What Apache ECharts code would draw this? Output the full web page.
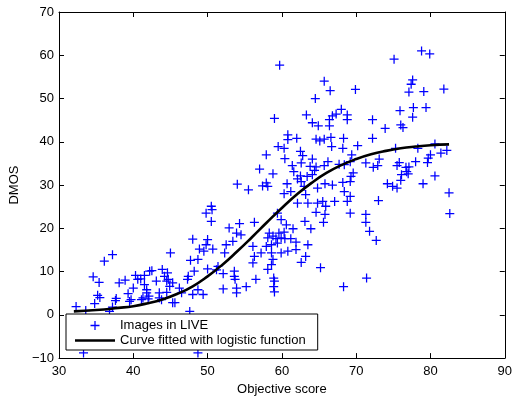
<!DOCTYPE html>
<html>
<head>
<meta charset="utf-8">
<script src="https://cdn.jsdelivr.net/npm/echarts@6/dist/echarts.min.js"></script>
<style>
  html, body { margin: 0; padding: 0; background: #fff; }
  #chart { width: 515px; height: 401px; }
</style>
</head>
<body>
<div id="chart"></div>
<script>
// Subjective scores (DMOS) of the LIVE images against the objective quality score
const objectiveScore = [
  32.3, 37.2, 36.1, 34.6, 35.4, 35.2, 35.5, 34.8, 33.6, 33.3, 37.6, 37.2, 38.1, 38.9, 39.3, 39.7,
  40.0, 40.3, 40.6, 41.0, 41.5, 42.2, 42.5, 41.5, 41.8, 41.8, 41.3, 42.1, 43.1, 43.9, 44.2, 43.5,
  44.7, 45.3, 44.5, 45.3, 43.5, 45.0, 41.1, 42.0, 39.5, 37.7, 43.8, 36.8,
  50.5, 49.8, 50.6, 50.5, 56.3, 54.3, 52.9, 53.9, 54.5, 53.4, 52.5, 52.3, 56.1, 56.3, 56.1, 57.2,
  48.0, 50.0, 49.8, 48.9, 49.5, 50.7, 48.7, 47.7, 50.0, 51.4, 51.2, 52.1, 53.6, 53.6, 53.7, 56.5,
  55.2, 53.9, 52.1, 53.9, 47.4, 47.3, 48.2, 44.6, 44.5, 44.9, 46.2, 46.5, 48.0, 49.4, 48.7, 45.6,
  47.6, 48.7,
  62.1, 63.5, 64.8, 65.5, 65.9, 67.1, 68.8, 64.6, 65.8, 65.6, 69.2, 63.1, 63.9, 59.4, 59.9, 60.6,
  61.5, 60.3, 59.6, 58.3, 58.1, 58.8, 59.2, 59.9, 60.4, 61.2, 61.9, 63.5, 58.6, 57.9, 59.4, 61.9,
  60.8, 59.9, 58.6, 63.2, 62.6, 58.8, 58.6, 58.1, 65.2, 58.9, 59.0, 58.9, 59.0, 68.3, 71.4,
  73.0, 71.3, 71.3, 71.8, 72.7, 82.6,
  54.0, 55.5, 57.0, 57.4,
  59.7, 65.7, 66.5, 64.5, 69.9, 59.0, 63.3, 64.1, 64.9, 66.4, 66.4, 66.8, 67.3, 68.0, 68.8, 68.8,
  62.0, 60.8, 60.8, 64.6, 65.1, 65.7, 66.6, 68.3, 59.5, 60.3, 66.7, 68.2, 70.2, 57.9, 62.5, 62.8,
  66.2, 69.4, 60.4, 64.1, 61.4, 62.6, 63.8, 64.6, 65.7, 67.7, 68.4, 69.2, 61.6, 64.4, 58.8, 62.5,
  63.4, 64.1, 69.6, 69.3, 58.1, 57.9, 60.7, 62.1, 62.6, 65.8, 66.8, 68.2, 69.2, 60.3, 61.2, 63.2,
  64.8, 68.4, 69.2, 63.0,
  75.1, 78.8, 79.9, 77.6, 77.4, 77.1, 79.1, 81.8, 75.9, 77.7, 79.4, 77.6, 72.2, 73.9, 76.0, 76.3,
  72.2, 75.3, 78.3, 80.6, 71.3, 73.1, 72.9, 72.3, 75.8, 75.5, 76.7, 77.1, 76.8, 76.1, 77.0, 78.0,
  79.6, 79.7, 80.0, 81.4, 82.2, 76.0, 74.2, 74.9, 75.5, 79.0, 80.6, 82.5
];
const dmos = [
  1.9, 13.9, 12.4, 8.8, 7.5, 4.5, 4.0, 2.6, 1.0, -8.8, 3.3, 1.8, 7.4, 8.0, 4.9, 3.5,
  6.2, 9.1, 8.2, 8.3, 9.1, 10.1, 10.2, 7.0, 5.8, 5.1, 3.9, 4.3, 7.8, 10.5, 8.9, 5.1,
  8.2, 7.4, 5.2, 2.8, 3.9, 14.3, 3.5, 3.7, 3.1, 3.8, 3.5, 0.8,
  25.1, 23.5, 24.3, 21.6, 21.4, 21.1, 20.1, 18.9, 18.5, 17.0, 16.2, 14.3, 15.8, 13.5, 12.0, 14.3,
  17.5, 17.4, 16.2, 15.2, 14.7, 15.2, 12.8, 12.6, 10.6, 11.2, 10.4, 9.5, 10.1, 8.9, 8.2, 8.2,
  6.5, 6.2, 6.0, 5.1, 8.9, 8.2, 10.1, 9.7, 7.8, 6.6, 6.2, 5.1, 4.7, 4.7, 5.8, 2.8,
  0.8, -8.8,
  25.8, 25.8, 25.8, 26.2, 25.1, 26.2, 26.2, 23.7, 23.2, 21.4, 23.5, 21.6, 19.9, 23.5, 22.0, 20.8,
  19.9, 19.1, 18.9, 18.9, 17.8, 18.2, 17.6, 17.8, 17.6, 17.6, 16.8, 16.2, 16.2, 15.8, 16.6, 15.1,
  14.7, 14.3, 14.3, 13.5, 12.1, 12.8, 11.6, 10.5, 10.9, 8.5, 7.8, 6.5, 5.3, 6.5, 8.5,
  26.4, 23.2, 21.4, 19.3, 17.2, 23.4,
  30.2, 28.9, 33.7, 29.8,
  57.7, 54.0, 51.8, 50.0, 52.1, 45.4, 46.2, 44.4, 43.7, 43.7, 45.1, 46.0, 46.4, 47.5, 46.2, 45.1,
  40.8, 41.6, 40.5, 40.6, 40.2, 40.6, 41.0, 40.8, 38.9, 38.5, 38.9, 38.5, 39.1, 37.0, 37.8, 36.8,
  35.4, 37.0, 36.1, 36.0, 34.5, 35.1, 34.3, 34.2, 34.5, 34.8, 34.7, 35.4, 33.1, 33.4, 32.6, 32.1,
  32.0, 32.4, 32.8, 32.0, 29.7, 30.5, 30.3, 31.4, 30.8, 30.3, 30.0, 30.6, 30.8, 28.0, 28.5, 27.8,
  29.3, 28.5, 27.4, 29.7,
  59.1, 61.0, 60.3, 54.3, 53.3, 51.5, 51.6, 52.2, 47.2, 47.9, 47.9, 45.7, 45.1, 43.1, 43.9, 43.3,
  40.8, 38.5, 38.5, 39.5, 35.1, 36.0, 34.5, 34.1, 35.2, 34.5, 34.1, 34.2, 33.1, 32.4, 32.6, 35.4,
  35.2, 36.2, 37.0, 37.4, 38.0, 31.1, 30.3, 29.7, 29.3, 30.3, 32.1, 28.2
];

// Logistic curve fitted to the scores, sampled along the objective score axis
const curveScore = [32, 35, 38, 40, 42, 44, 46, 48, 50, 52, 54, 56, 58, 60, 62, 64, 66, 68, 70, 72, 74, 76, 78, 80, 82.5];
const curveDmos  = [0.8, 1.1, 1.6, 2.0, 2.7, 3.6, 4.9, 6.6, 8.9, 11.6, 14.7, 18.0, 21.4, 24.7, 27.8, 30.5, 32.8, 34.6, 36.0, 37.1, 37.9, 38.5, 38.9, 39.2, 39.4];

const legendNames = ['Images in LIVE', 'Curve fitted with logistic function'];
const xRange = [30, 90];
const yRange = [-10, 70];

const FONT = "'Liberation Sans', Arial, Helvetica, sans-serif";
const plusMarker = 'path://M0,4.3H10V5.7H0Z M4.3,0H5.7V10H4.3Z';
const lineIcon = 'path://M0,0H40V2.6H0Z';

const chart = echarts.init(document.getElementById('chart'), null, { renderer: 'canvas' });

function frameAxis(base, extra) {
  return Object.assign({
    type: 'value',
    axisLine: { show: true, onZero: false, lineStyle: { color: '#000', width: 1 } },
    axisTick: { show: true, inside: true, length: 5, lineStyle: { color: '#000', width: 1 } },
    splitLine: { show: false }
  }, base, extra);
}

const labelStyle = { color: '#000', fontSize: 13, fontFamily: FONT };
// typographic minus for negative tick values
const tickText = v => String(v).replace('-', '\u2212');

chart.setOption({
  animation: false,
  backgroundColor: '#fff',
  grid: { left: 59, right: 9, top: 12, bottom: 42, containLabel: false },
  xAxis: [
    frameAxis({ min: xRange[0], max: xRange[1], interval: 10 }, {
      position: 'bottom',
      name: 'Objective score', nameLocation: 'middle', nameGap: 22,
      nameTextStyle: labelStyle,
      axisLabel: Object.assign({ margin: 7, formatter: tickText }, labelStyle)
    }),
    frameAxis({ min: xRange[0], max: xRange[1], interval: 10 }, {
      position: 'top', axisLabel: { show: false }
    })
  ],
  yAxis: [
    frameAxis({ min: yRange[0], max: yRange[1], interval: 10 }, {
      position: 'left',
      name: 'DMOS', nameLocation: 'middle', nameGap: 34,
      nameTextStyle: labelStyle,
      axisLabel: Object.assign({ margin: 5, formatter: tickText }, labelStyle)
    }),
    frameAxis({ min: yRange[0], max: yRange[1], interval: 10 }, {
      position: 'right', axisLabel: { show: false }
    })
  ],
  legend: {
    orient: 'vertical',
    left: 66, top: 314,
    padding: [5, 12, 3, 9],
    itemGap: 2,
    itemWidth: 40, itemHeight: 9,
    backgroundColor: '#fff',
    borderColor: '#000', borderWidth: 1,
    textStyle: { color: '#000', fontSize: 13, fontFamily: FONT },
    data: [
      { name: legendNames[0], icon: plusMarker },
      { name: legendNames[1], icon: lineIcon }
    ]
  },
  series: [
    {
      name: legendNames[0],
      type: 'scatter',
      symbol: plusMarker,
      symbolSize: 9,
      itemStyle: { color: '#0000ff', opacity: 1 },
      data: objectiveScore.map((x, i) => [x, dmos[i]]),
      z: 2
    },
    {
      name: legendNames[1],
      type: 'line',
      smooth: true,
      showSymbol: false,
      symbol: 'none',
      lineStyle: { color: '#000', width: 2.6 },
      itemStyle: { color: '#000' },
      data: curveScore.map((x, i) => [x, curveDmos[i]]),
      z: 3
    }
  ]
});
</script>
</body>
</html>
